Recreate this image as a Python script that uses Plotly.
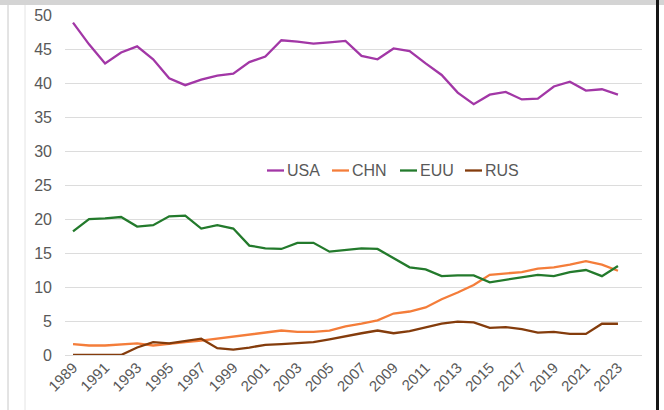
import plotly.graph_objects as go

years = list(range(1989, 2024))
usa = [48.9, 45.7, 42.9, 44.5, 45.4, 43.5, 40.7, 39.7, 40.5, 41.1, 41.4, 43.1, 43.9, 46.3, 46.1, 45.8, 46.0, 46.2,
       44.0, 43.5, 45.1, 44.7, 42.9, 41.2, 38.6, 36.9, 38.3, 38.7, 37.6, 37.7, 39.5, 40.2, 38.9, 39.1, 38.3]
chn = [1.6, 1.4, 1.4, 1.6, 1.7, 1.4, 1.7, 1.9, 2.1, 2.4, 2.8, 3.0, 3.4, 3.6, 3.4, 3.4, 3.6, 4.2,
       4.6, 5.1, 6.1, 6.4, 7.0, 8.2, 9.2, 10.3, 11.8, 12.0, 12.2, 12.7, 12.9, 13.3, 13.8, 13.3, 12.4]
euu = [18.2, 20.0, 20.1, 20.3, 18.9, 19.1, 20.4, 20.5, 18.6, 19.1, 18.6, 16.1, 15.7, 15.6, 16.5, 16.5, 15.2, 15.5,
       15.7, 15.6, 14.2, 12.9, 12.6, 11.6, 11.7, 11.7, 10.7, 11.1, 11.4, 11.8, 11.6, 12.2, 12.5, 11.6, 13.1]
rus = [0, 0, 0, 0, 1.1, 1.9, 1.7, 2.1, 2.4, 1.0, 0.8, 1.1, 1.5, 1.6, 1.7, 1.9, 2.3, 2.8,
       3.2, 3.6, 3.2, 3.5, 4.0, 4.6, 4.9, 4.8, 4.0, 4.1, 3.8, 3.3, 3.4, 3.1, 3.1, 4.6, 4.6]
series_names = ["USA", "CHN", "EUU", "RUS"]
tick_years = list(range(1989, 2024, 2))
tick_labels = [str(y) for y in tick_years]
y_ticks = list(range(0, 51, 5))

colors = ["#A237A6", "#F47D3A", "#237A2C", "#843C0C"]
values = [usa, chn, euu, rus]

fig = go.Figure()
for name, vals, col in zip(series_names, values, colors):
    fig.add_trace(go.Scatter(x=years, y=vals, mode="lines", name=name,
                             line=dict(color=col, width=2.3), showlegend=False))

L, R, T, B = 65, 22, 15, 55
W, H = 664, 410
pw, ph = W - L - R, H - T - B

def px_x(p):
    return (p - L) / pw

def px_y(p):
    return (H - B - p) / ph

# manual legend
leg_y = px_y(170.5)
leg_x = [267, 332, 400, 465]
shapes = []
annotations = []
for name, col, x0 in zip(series_names, colors, leg_x):
    shapes.append(dict(type="line", xref="paper", yref="paper", x0=px_x(x0), x1=px_x(x0 + 17),
                       y0=leg_y, y1=leg_y, line=dict(color=col, width=2.3)))
    annotations.append(dict(xref="paper", yref="paper", x=px_x(x0 + 18), y=leg_y, text=name,
                            showarrow=False, xanchor="left", yanchor="middle",
                            font=dict(size=16, color="#595959", family="Liberation Sans, Arial, sans-serif")))

# frame decorations (screenshot borders): grey top strip, white panel below it
shapes.append(dict(type="rect", xref="paper", yref="paper", x0=px_x(-20), x1=px_x(700), y0=px_y(5), y1=px_y(430),
                   fillcolor="white", line=dict(width=0), layer="below"))
shapes.append(dict(type="line", xref="paper", yref="paper", x0=px_x(8), x1=px_x(8), y0=px_y(5), y1=px_y(410),
                   line=dict(color="#C8C8C8", width=1)))
shapes.append(dict(type="line", xref="paper", yref="paper", x0=px_x(25), x1=px_x(25), y0=px_y(5), y1=px_y(410),
                   line=dict(color="#E4E4E4", width=1)))
shapes.append(dict(type="line", xref="paper", yref="paper", x0=px_x(657.5), x1=px_x(657.5), y0=px_y(0), y1=px_y(410),
                   line=dict(color="#151515", width=3)))

fig.update_layout(
    width=W, height=H,
    margin=dict(l=L, r=R, t=T, b=B, autoexpand=False),
    paper_bgcolor="#D4D4D4", plot_bgcolor="white",
    font=dict(family="Liberation Sans, Arial, sans-serif", color="#595959"),
    shapes=shapes, annotations=annotations,
    xaxis=dict(range=[1988.5, 2024.5], tickvals=tick_years, ticktext=tick_labels, tickangle=-45,
               showgrid=False, zeroline=False, showline=False, ticks="",
               tickfont=dict(size=15, color="#595959"), automargin=False),
    yaxis=dict(range=[0, 50.02], tickvals=y_ticks, showgrid=True, gridcolor="#DCDCDC", gridwidth=1,
               zeroline=True, zerolinecolor="#DCDCDC", zerolinewidth=1, showline=False, ticks="",
               ticklabelstandoff=12, tickfont=dict(size=16, color="#595959"), automargin=False),
)

fig.write_html("out.html", config={"displayModeBar": False},
               post_script="document.body.style.margin='0';document.body.style.overflow='hidden';")
